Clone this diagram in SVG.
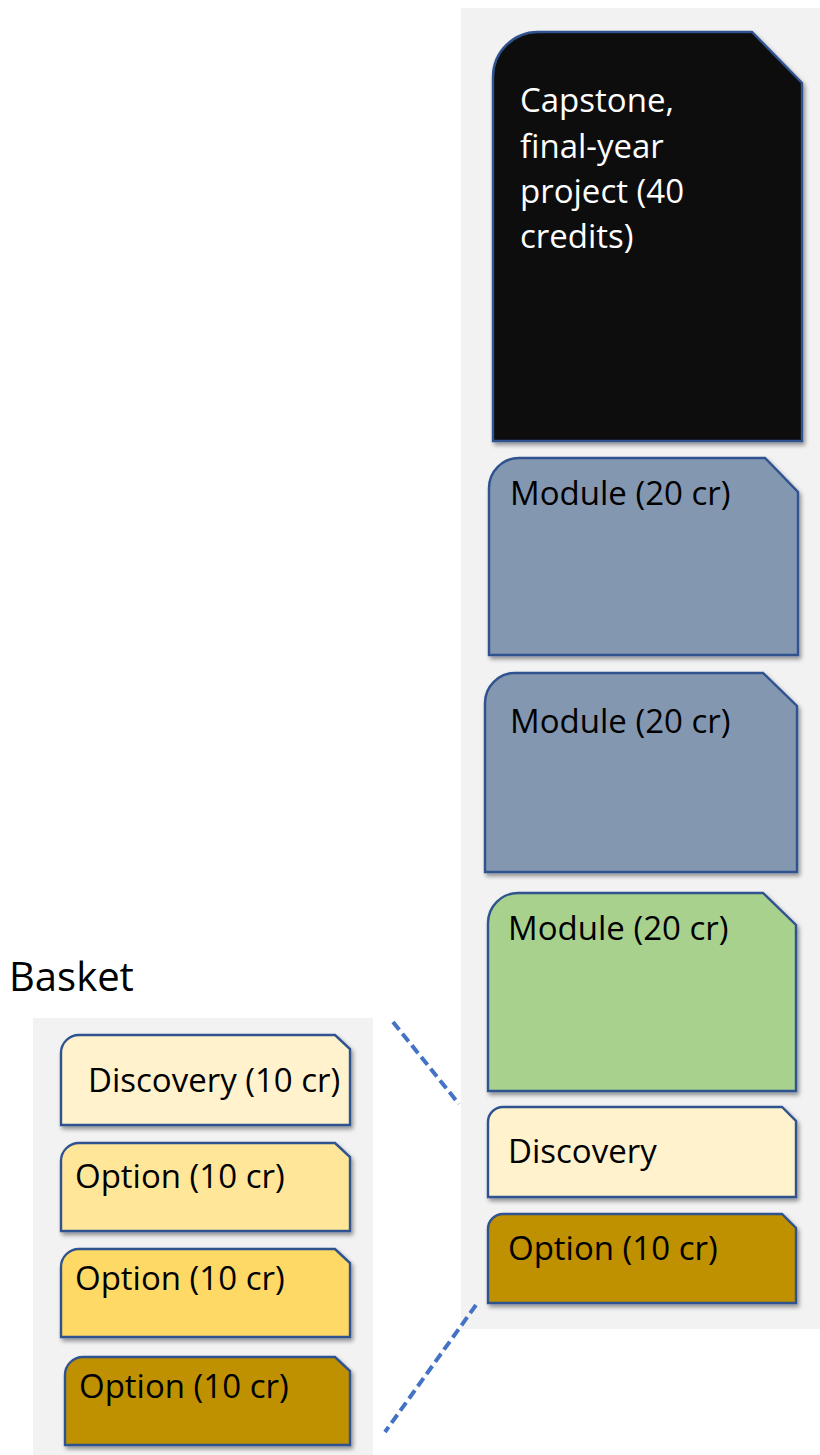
<svg xmlns="http://www.w3.org/2000/svg" width="820" height="1455" viewBox="0 0 820 1455">
<defs>
<filter id="sh" x="-10%" y="-10%" width="130%" height="130%">
<feDropShadow dx="2" dy="3" stdDeviation="2" flood-color="#000" flood-opacity="0.4"/>
</filter>
</defs>
<style>
.n{stroke:#2f528f;stroke-width:2.4;filter:url(#sh)}
.t{font-family:"Open Sans","Liberation Sans",sans-serif;font-size:33px;fill:#000}
.w{fill:#fff}
.c{stroke:#4472c4;stroke-width:4;stroke-dasharray:10 5;fill:none}
.panel{fill:#f2f2f2}
</style>
<rect class="panel" x="461" y="8" width="359" height="1321"/>
<rect class="panel" x="33" y="1018" width="340" height="437"/>
<text class="t" x="9" y="991" style="font-size:40px">Basket</text>
<g id="capstone">
<path class="n" fill="#0d0d0d" d="M493,77 A45,45 0 0 1 538,32 L752,32 L802,83 L802,441 L493,441 Z"/>
<text class="t w" x="520" y="112">Capstone,</text>
<text class="t w" x="520" y="158">final-year</text>
<text class="t w" x="520" y="203">project (40</text>
<text class="t w" x="520" y="248">credits)</text>
</g>
<g id="module1">
<path class="n" fill="#8497b0" d="M489,488 A30,30 0 0 1 519,458 L765,458 L798,492 L798,655 L489,655 Z"/>
<text class="t" x="510" y="505">Module (20 cr)</text>
</g>
<g id="module2">
<path class="n" fill="#8497b0" d="M485,703 A30,30 0 0 1 515,673 L763,673 L797,706 L797,872 L485,872 Z"/>
<text class="t" x="510" y="733">Module (20 cr)</text>
</g>
<g id="module3">
<path class="n" fill="#a9d18e" d="M488,923 A30,30 0 0 1 518,893 L763,893 L796,925 L796,1091 L488,1091 Z"/>
<text class="t" x="508" y="940">Module (20 cr)</text>
</g>
<g id="discovery">
<path class="n" fill="#fff2cc" d="M488,1122 A15,15 0 0 1 503,1107 L782,1107 L796,1121 L796,1197 L488,1197 Z"/>
<text class="t" x="508" y="1163">Discovery</text>
</g>
<g id="option">
<path class="n" fill="#bf9000" d="M488,1229 A15,15 0 0 1 503,1214 L782,1214 L796,1228 L796,1303 L488,1303 Z"/>
<text class="t" x="508" y="1260">Option (10 cr)</text>
</g>
<g id="basket-discovery">
<path class="n" fill="#fff2cc" d="M61,1053 A18,18 0 0 1 79,1035 L335,1035 L350,1049 L350,1125 L61,1125 Z"/>
<text class="t" x="88" y="1092">Discovery (10 cr)</text>
</g>
<g id="basket-option1">
<path class="n" fill="#ffe699" d="M61,1161 A18,18 0 0 1 79,1143 L335,1143 L350,1157 L350,1231 L61,1231 Z"/>
<text class="t" x="75" y="1188">Option (10 cr)</text>
</g>
<g id="basket-option2">
<path class="n" fill="#ffd966" d="M61,1267 A18,18 0 0 1 79,1249 L335,1249 L350,1263 L350,1337 L61,1337 Z"/>
<text class="t" x="75" y="1290">Option (10 cr)</text>
</g>
<g id="basket-option3">
<path class="n" fill="#bf9000" d="M65,1375 A18,18 0 0 1 83,1357 L335,1357 L350,1371 L350,1445 L65,1445 Z"/>
<text class="t" x="79" y="1398">Option (10 cr)</text>
</g>
<g id="connectors">
<line class="c" x1="393" y1="1022" x2="459" y2="1104"/>
<line class="c" x1="476" y1="1305" x2="385" y2="1432"/>
</g>
</svg>
